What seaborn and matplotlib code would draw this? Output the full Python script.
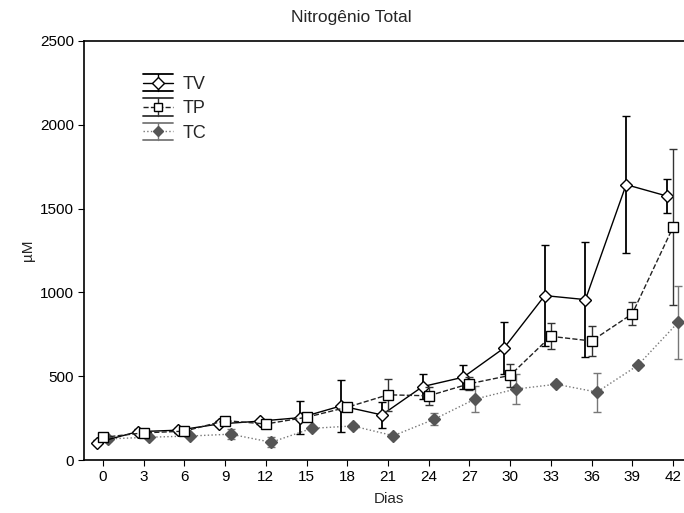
import numpy as np
import pandas as pd
import matplotlib
matplotlib.use("Agg")
import matplotlib.pyplot as plt
from matplotlib.lines import Line2D
from matplotlib.legend_handler import HandlerBase
import seaborn as sns

# Sampling days and total nitrogen (µM) for each treatment, with error bar half-widths
days = [0, 3, 6, 9, 12, 15, 18, 21, 24, 27, 30, 33, 36, 39, 42]
tv = [104, 169, 178, 215, 232, 253, 323, 269, 438, 494, 668, 981, 957, 1643, 1575]
tv_err = [15, 15, 15, 15, 15, 100, 155, 80, 76, 70, 153, 300, 345, 410, 100]
tp = [135, 162, 172, 235, 215, 255, 315, 389, 383, 455, 505, 738, 710, 872, 1389]
tp_err = [15, 15, 15, 15, 15, 15, 15, 95, 55, 40, 70, 78, 90, 68, 465]
tc = [126, 136, 143, 154, 106, 189, 203, 145, 243, 363, 423, 452, 405, 564, 823]
tc_err = [10, 10, 10, 30, 30, 10, 10, 10, 36, 78, 88, 10, 117, 10, 218]
labels = ["TV", "TP", "TC"]
xticks = days
yticks = [0, 500, 1000, 1500, 2000, 2500]

sns.set_style("ticks")
plt.rcParams["font.family"] = ["Liberation Sans", "DejaVu Sans"]

fig = plt.figure(figsize=(6.84, 5.13), dpi=100)
ax = fig.add_axes([84 / 684, 1 - 460 / 513, 610 / 684, 419 / 513])

styles = {
    "TV": dict(values=tv, err=tv_err, dodge=-0.45, ls="-", marker="D", mfc="white",
               mec="black", ms=6.3, color="black", ecolor="black", elw=1.3, z=4),
    "TP": dict(values=tp, err=tp_err, dodge=0.0, ls="--", marker="s", mfc="white",
               mec="black", ms=6.6, color="#222222", ecolor="#333333", elw=1.0, z=5),
    "TC": dict(values=tc, err=tc_err, dodge=0.4, ls=":", marker="D", mfc="#555555",
               mec="#555555", ms=6.0, color="#777777", ecolor="#777777", elw=1.0, z=3),
}

for name in ["TC", "TV", "TP"]:
    s = styles[name]
    x = np.array(days, dtype=float) + s["dodge"]
    df = pd.DataFrame({"Dias": x, "valor": s["values"]})
    ax.errorbar(x, s["values"], yerr=s["err"], fmt="none", ecolor=s["ecolor"],
                elinewidth=s["elw"], capsize=3, capthick=1.0, zorder=s["z"] - 0.5)
    sns.lineplot(data=df, x="Dias", y="valor", ax=ax, color=s["color"], linestyle=s["ls"],
                 linewidth=1.0, marker=s["marker"], markerfacecolor=s["mfc"],
                 markeredgecolor=s["mec"], markeredgewidth=1.0, markersize=s["ms"],
                 zorder=s["z"], legend=False)


class CappedHandler(HandlerBase):
    """Legend key: styled line with marker, a short vertical bar and wide caps."""

    def __init__(self, style):
        super().__init__()
        self.style = style

    def create_artists(self, legend, orig_handle, xdescent, ydescent, width, height,
                       fontsize, trans):
        s = self.style
        x0, x1 = -xdescent, -xdescent + width
        xc = (x0 + x1) / 2
        yc = -ydescent + height / 2
        off = 6.2
        arts = [
            Line2D([x0, x1], [yc + off, yc + off], color=s["ecolor"], lw=1.3),
            Line2D([x0, x1], [yc - off, yc - off], color=s["ecolor"], lw=1.3),
            Line2D([xc, xc], [yc - off, yc + off], color=s["ecolor"], lw=1.0),
            Line2D([x0, x1], [yc, yc], color=s["color"], lw=1.0, linestyle=s["ls"]),
            Line2D([xc], [yc], marker=s["marker"], markerfacecolor=s["mfc"],
                   markeredgecolor=s["mec"], markersize=s["ms"] - 0.5, linestyle="none"),
        ]
        for a in arts:
            a.set_transform(trans)
        return arts


proxies = [Line2D([], [], label=n) for n in labels]
hmap = {p: CappedHandler(styles[n]) for p, n in zip(proxies, labels)}
ax.legend(handles=proxies, labels=labels, handler_map=hmap, loc="upper left",
          bbox_to_anchor=(0.097, 0.920), frameon=False, fontsize=13,
          handlelength=1.65, handleheight=1.0, handletextpad=0.55, labelspacing=0.34,
          borderpad=0.0, borderaxespad=0.0)

ax.set_xlim(-1.4, 43.55)
ax.set_ylim(0, 2500)
ax.set_xticks(xticks)
ax.set_yticks(yticks)
ax.tick_params(axis="both", direction="out", length=4, width=0.8, labelsize=11,
               colors="black", pad=3)
for sp in ax.spines.values():
    sp.set_color("black")
    sp.set_linewidth(1.2)

ax.set_xlabel("Dias", fontsize=11, labelpad=6)
ax.set_ylabel("µM", fontsize=11, labelpad=4)
ax.set_title("Nitrogênio Total", fontsize=12.5, pad=14, x=0.438)

fig.savefig("out.png", dpi=100)
